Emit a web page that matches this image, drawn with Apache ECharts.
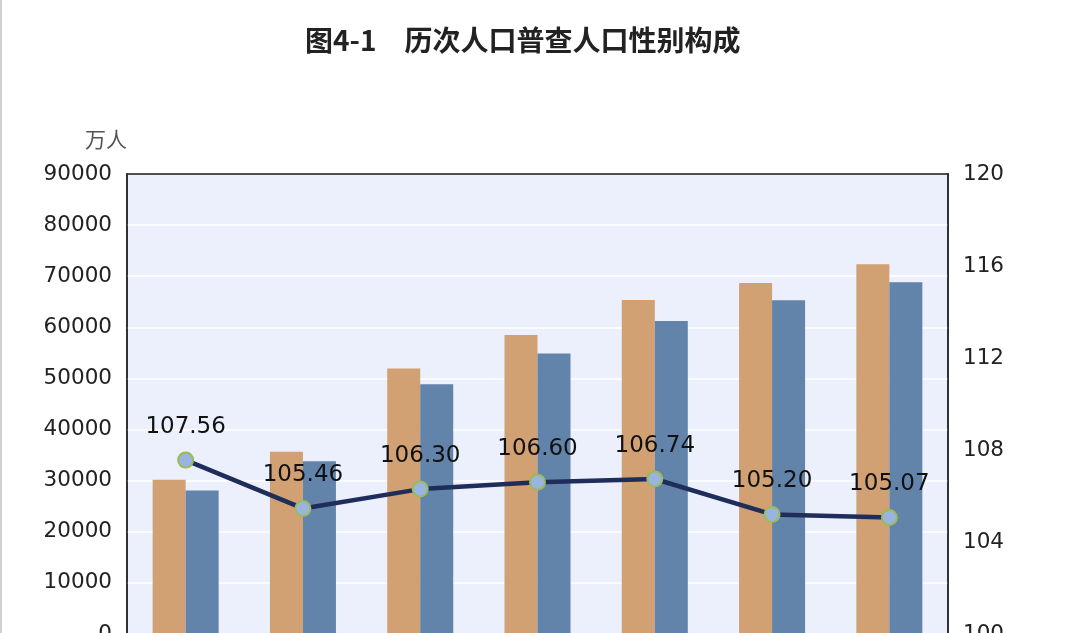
<!DOCTYPE html>
<html><head><meta charset="utf-8">
<script src="https://cdn.jsdelivr.net/npm/echarts@6/dist/echarts.min.js"></script>
<style>
html,body{margin:0;padding:0;overflow:hidden;background:#fff;}
#c{width:1070px;height:720px;box-sizing:border-box;border-left:2px solid #d0d0d0;}
</style></head>
<body><div id="c"></div>
<script>
const categories = ['1953年','1964年','1982年','1990年','2000年','2010年','2020年'];
const male = [30190, 35652, 51944, 58495, 65355, 68685, 72334];
const female = [28070, 33806, 48874, 54873, 61228, 65287, 68844];
const sexRatio = [107.56, 105.46, 106.30, 106.60, 106.74, 105.20, 105.07];
const leftTicks = {min:0, max:90000, interval:10000};
const rightTicks = {min:100, max:120, interval:4};

const chart = echarts.init(document.getElementById('c'));
chart.setOption({
  animation:false,
  title:{text:'图4-1\u3000历次人口普查人口性别构成', left:298, top:21,
    textStyle:{fontFamily:'Noto Sans CJK SC', fontWeight:'bold', fontSize:28, color:'#222'}},
  legend:{bottom:5, data:['男','女','性别比'], textStyle:{fontSize:18}},
  grid:{left:125, right:122, top:174, bottom:86, show:true, backgroundColor:'#eceffc', borderColor:'#333', borderWidth:1.5},
  xAxis:[
    {type:'category', data:categories,
    axisLine:{lineStyle:{color:'#222', width:1.5}},
    axisTick:{inside:true, length:9, lineStyle:{color:'#222'}},
    axisLabel:{fontFamily:'DejaVu Sans', fontSize:20, color:'#222'}},
    {type:'category', data:categories, position:'top',
    axisLine:{show:true, lineStyle:{color:'#222', width:1.5}},
    axisTick:{show:false}, axisLabel:{show:false}, splitLine:{show:false}}
  ],
  yAxis:[
    {type:'value', min:leftTicks.min, max:leftTicks.max, interval:leftTicks.interval,
     name:'万人', nameGap:24, nameTextStyle:{fontFamily:'Noto Sans CJK SC', fontSize:21, color:'#555', align:'right'},
     axisLine:{show:true, lineStyle:{color:'#222', width:1.5}}, axisTick:{show:false},
     axisLabel:{fontFamily:'DejaVu Sans', fontSize:21.5, color:'#222', margin:15, formatter:v=>String(v)},
     splitLine:{lineStyle:{color:'#ffffff', width:1.5}}},
    {type:'value', min:rightTicks.min, max:rightTicks.max, interval:rightTicks.interval, position:'right',
     axisLine:{show:true, lineStyle:{color:'#222', width:1.5}}, axisTick:{show:false},
     axisLabel:{fontFamily:'DejaVu Sans', fontSize:21.5, color:'#222', margin:15, formatter:v=>String(v)},
     splitLine:{show:false}}
  ],
  series:[
    {name:'男', type:'bar', data:male, barWidth:33, barGap:'0%', itemStyle:{color:'#d1a073'}},
    {name:'女', type:'bar', data:female, barWidth:33, barGap:'0%', itemStyle:{color:'#6283aa'}},
    {name:'性别比', type:'line', yAxisIndex:1, data:sexRatio, symbol:'circle', symbolSize:15,
     lineStyle:{color:'#1f2d5a', width:4.5},
     itemStyle:{color:'#9ab4e0', borderColor:'#9bbb59', borderWidth:2},
     label:{show:true, position:'top', distance:13, formatter:p=>p.value.toFixed(2),
       fontFamily:'DejaVu Sans', fontSize:23, color:'#111'}, z:5}
  ]
});
</script></body></html>
